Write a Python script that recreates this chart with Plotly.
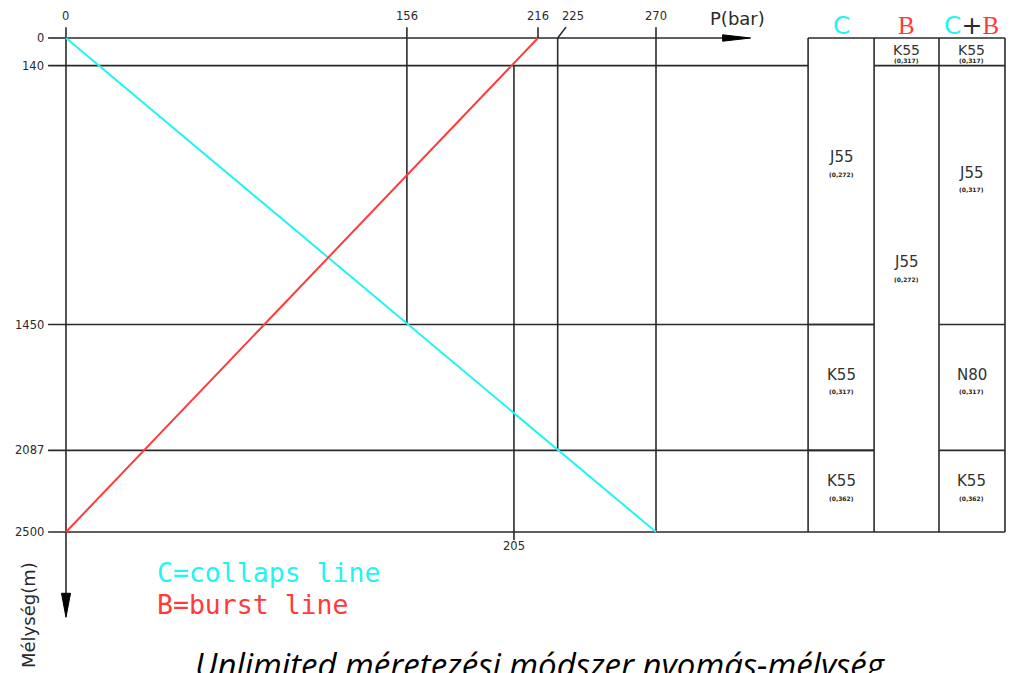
import plotly.graph_objects as go

# ---- values -------------------------------------------------------------
# pressure (bar) values marked on the top axis
pressure_ticks = [0, 156, 216, 225, 270]
# depth (m) values marked on the left axis
depth_ticks = [0, 140, 1450, 2087, 2500]

# design lines: collapse (C) and burst (B)
collapse_pressure = [0, 270]
collapse_depth = [0, 2500]
burst_pressure = [0, 216]
burst_depth = [2500, 0]

# vertical reading lines: pressure, from depth, to depth
guide_pressure = [156, 205, 225, 270]
guide_from = [0, 140, 0, 0]
guide_to = [1450, 2500, 2087, 2500]

# casing selection table, one list set per column
col_names = ["C", "B", "C+B"]
c_top = [0, 1450, 2087]
c_bottom = [1450, 2087, 2500]
c_grade = ["J55", "K55", "K55"]
c_wall = ["(0,272)", "(0,317)", "(0,362)"]

b_top = [0, 140]
b_bottom = [140, 2500]
b_grade = ["K55", "J55"]
b_wall = ["(0,317)", "(0,272)"]

cb_top = [0, 140, 1450, 2087]
cb_bottom = [140, 1450, 2087, 2500]
cb_grade = ["K55", "J55", "N80", "K55"]
cb_wall = ["(0,317)", "(0,317)", "(0,317)", "(0,362)"]

# ---- layout constants ---------------------------------------------------
W, H = 1017, 673
X_RANGE = [-30.2, 435.2]          # bar
Y_RANGE = [3213.5, -192.3]        # m, depth grows downwards
PX_PER_BAR = W / (X_RANGE[1] - X_RANGE[0])
PX_PER_M = H / (Y_RANGE[0] - Y_RANGE[1])

TABLE_EDGES = [339.6, 369.8, 399.5, 429.7]   # bar units (column borders)
LEFT_START = -8.2                            # horizontal lines start left of axis
TOP_TICK = -55                               # tick stub above depth 0
AXIS_X_END = 300.5
AXIS_Y_END = 2810

CYAN = "#22f4f4"
RED = "#ff3a3a"
INK = "#2a2a2a"
LW = 1.6
CAD_FONT = "DejaVu Sans"

fig = go.Figure()

# design lines
fig.add_trace(go.Scatter(x=collapse_pressure, y=collapse_depth, mode="lines",
                         line=dict(color=CYAN, width=2), hoverinfo="skip"))
fig.add_trace(go.Scatter(x=burst_pressure, y=burst_depth, mode="lines",
                         line=dict(color=RED, width=2), hoverinfo="skip"))

shapes = []


def seg(x0, y0, x1, y1, color=INK, width=LW):
    shapes.append(dict(type="line", xref="x", yref="y", x0=x0, y0=y0, x1=x1, y1=y1,
                       line=dict(color=color, width=width), layer="below"))


# axes with arrows
seg(0, 0, AXIS_X_END, 0)
seg(0, TOP_TICK, 0, AXIS_Y_END)
ah = 3.2 / PX_PER_M
shapes.append(dict(type="path", xref="x", yref="y",
                   path=f"M {AXIS_X_END},{-ah} L {AXIS_X_END + 28 / PX_PER_BAR},0 L {AXIS_X_END},{ah} Z",
                   fillcolor="black", line=dict(color="black", width=1)))
aw = 4.5 / PX_PER_BAR
shapes.append(dict(type="path", xref="x", yref="y",
                   path=f"M {-aw},{AXIS_Y_END} L 0,{AXIS_Y_END + 24 / PX_PER_M} L {aw},{AXIS_Y_END} Z",
                   fillcolor="black", line=dict(color="black", width=1)))

# horizontal depth lines across the diagram
for d in depth_ticks:
    if d == 0:
        seg(LEFT_START, d, 0, d)
    elif d == 140:
        seg(LEFT_START, d, TABLE_EDGES[0], d)
    elif d == 2500:
        seg(LEFT_START, d, TABLE_EDGES[3], d)
    else:
        seg(LEFT_START, d, TABLE_EDGES[1], d)

# vertical reading lines
for p, d0, d1 in zip(guide_pressure, guide_from, guide_to):
    top = TOP_TICK if p in (156, 270) else d0
    bottom = d1 + 40 if p == 205 else d1
    seg(p, top, p, bottom)
# tick stub at the burst line's top end
seg(216, TOP_TICK, 216, 0)
# leader for the 225 label
seg(225, 0, 225 + 3.8, TOP_TICK)

# table frame
seg(TABLE_EDGES[0], 0, TABLE_EDGES[3], 0)
for e in TABLE_EDGES:
    seg(e, 0, e, 2500)

annotations = []


def label(x, y, text, size=12, color=INK, xanchor="center", yanchor="middle",
          family=CAD_FONT, xshift=0, yshift=0, **kw):
    annotations.append(dict(x=x, y=y, xref="x", yref="y", text=text, showarrow=False,
                            xanchor=xanchor, yanchor=yanchor, xshift=xshift, yshift=yshift,
                            font=dict(size=size, color=color, family=family), **kw))


# top pressure labels
for p in pressure_ticks:
    label(p, 0, str(p), size=11.5, yshift=22, xshift=15 if p == 225 else 0)
label(AXIS_X_END + 7, 0, "P(bar)", size=18, yshift=20, family="DejaVu Sans")
label(205, 2500, "205", size=11.5, yshift=-14)

# left depth labels
for d in depth_ticks:
    label(0, d, str(d), size=11.5, xanchor="right", xshift=-20)

# table headers
mid = [(TABLE_EDGES[i] + TABLE_EDGES[i + 1]) / 2 for i in range(3)]
label(mid[0], 0, col_names[0], size=25, color=CYAN, yshift=13)
label(mid[1], 0, col_names[1], size=25, color=RED, yshift=13, family="Liberation Serif")
label(mid[2], 0,
      f"<span style='color:{CYAN}'>C</span>+<span style='color:{RED};font-family:Liberation Serif'>B</span>",
      size=25, color=INK, yshift=13)

# table horizontal splits and cell texts
columns = [(c_top, c_bottom, c_grade, c_wall),
           (b_top, b_bottom, b_grade, b_wall),
           (cb_top, cb_bottom, cb_grade, cb_wall)]
for i, (tops, bottoms, grades, walls) in enumerate(columns):
    for t, b, g, w in zip(tops, bottoms, grades, walls):
        if b != 2500:
            seg(TABLE_EDGES[i], b, TABLE_EDGES[i + 1], b)
        ymid = t + 0.43 * (b - t)
        small_cell = (b - t) < 300
        label(mid[i], ymid if not small_cell else t, g, size=14 if small_cell else 15,
              color="#333", yshift=-12 if small_cell else 4)
        label(mid[i], ymid if not small_cell else t, f"<b>{w}</b>", size=6,
              color="#222", yshift=-22 if small_cell else -13)

layout_ann = annotations + [
    dict(x=155 / W, y=1 - 572 / H, xref="paper", yref="paper", text="C=collaps line",
         showarrow=False, xanchor="left", yanchor="middle",
         font=dict(size=26.5, color=CYAN, family="DejaVu Sans Mono")),
    dict(x=155 / W, y=1 - 604 / H, xref="paper", yref="paper", text="B=burst line",
         showarrow=False, xanchor="left", yanchor="middle",
         font=dict(size=26.5, color=RED, family="DejaVu Sans Mono")),
    dict(x=28 / W, y=1 - 615 / H, xref="paper", yref="paper", text="Mélység(m)",
         showarrow=False, textangle=-90, xanchor="center", yanchor="middle",
         font=dict(size=18, color=INK, family="DejaVu Sans")),
    dict(x=540 / W, y=1 - 640 / H, xref="paper", yref="paper",
         text="<i>Unlimited méretezési módszer nyomás-mélység</i>",
         showarrow=False, xanchor="center", yanchor="top",
         font=dict(size=33, color="black", family="Open Sans")),
]

fig.update_layout(
    width=W, height=H, autosize=False,
    margin=dict(l=0, r=0, t=0, b=0, pad=0),
    paper_bgcolor="white", plot_bgcolor="white",
    showlegend=False,
    xaxis=dict(range=X_RANGE, visible=False, fixedrange=True),
    yaxis=dict(range=Y_RANGE, visible=False, fixedrange=True),
    shapes=shapes,
    annotations=layout_ann,
)

fig.write_html("out.html")
